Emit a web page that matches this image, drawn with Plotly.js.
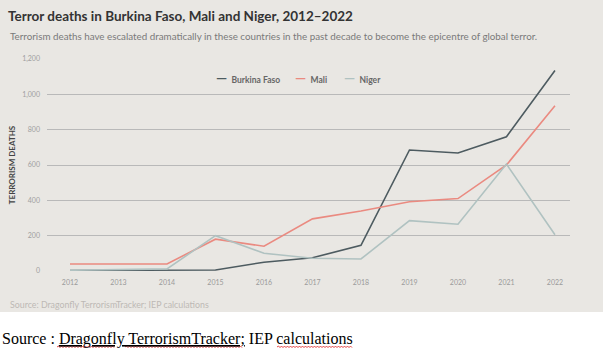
<!DOCTYPE html>
<html><head><meta charset="utf-8">
<script src="https://cdn.plot.ly/plotly-3.0.1.min.js"></script>
<style>html,body{margin:0;padding:0;background:#fff}#chart{width:603px;height:352px}</style>
</head><body><div id="chart"></div>
<script>
const years = [2012, 2013, 2014, 2015, 2016, 2017, 2018, 2019, 2020, 2021, 2022];
const burkinaFaso = [3, 4, 6, 6, 50, 75, 145, 685, 668, 760, 1135];
const mali = [40, 40, 40, 180, 140, 295, 340, 392, 410, 600, 935];
const niger = [4, 6, 12, 200, 100, 72, 68, 285, 265, 605, 205];
const seriesNames = ["Burkina Faso", "Mali", "Niger"];
const yTicks = [0, 200, 400, 600, 800, 1000, 1200];

const W = 603, H = 352, L = 47, R = 33, T = 59, B = 81;
const pw = W - L - R, ph = H - T - B;
const px = x => (x - L) / pw;
const py = y => (H - B - y) / ph;

const colors = ["#4d5b60", "#ea8a80", "#b0c2c1"];
const traces = [burkinaFaso, mali, niger].map((v, i) => ({
  x: years, y: v, name: seriesNames[i], type: "scatter", mode: "lines",
  line: {color: colors[i], width: 1.6}, showlegend: false
}));

// legend built from series names/colours
const legendX = [214, 293, 342];
const legendAnn = seriesNames.map((n, i) => ({
  text: "<span style='color:" + colors[i] + ";font-size:14px'><b>—</b></span>  <b>" + n + "</b>",
  xref: "paper", yref: "paper", x: px(legendX[i]), y: py(77), xanchor: "left", yanchor: "middle",
  showarrow: false, font: {size: 8.5, color: "#666"}
}));

// spell-check style red wavy underlines (decoration only)
function wavy(x0, x1, y) {
  let d = "M" + px(x0) + "," + py(y);
  let up = true;
  for (let x = x0 + 1.5; x <= x1; x += 1.5) {
    d += " L" + px(x) + "," + py(y + (up ? -1 : 0.6));
    up = !up;
  }
  return {type: "path", xref: "paper", yref: "paper", path: d, line: {color: "#e02020", width: 0.8}};
}

const layout = {
  width: W, height: H,
  margin: {l: L, r: R, t: T, b: B},
  paper_bgcolor: "#ffffff",
  plot_bgcolor: "rgba(0,0,0,0)",
  font: {family: "Lato, 'Open Sans', sans-serif", color: "#999"},
  title: {text: "<b>Terror deaths in Burkina Faso, Mali and Niger, 2012–2022</b>",
    x: 8 / W, xanchor: "left", y: 1 - 16 / H, yanchor: "middle",
    font: {size: 13.5, color: "#333", family: "Lato, sans-serif"}},
  xaxis: {range: [2011.526, 2022.31], tickvals: years, ticktext: years.map(String),
    showgrid: false, zeroline: false, showline: false, ticks: "", ticklabelstandoff: 6,
    tickfont: {size: 7, color: "#9a9a9a"}, fixedrange: true},
  yaxis: {range: [0, 1200], tickvals: yTicks, tickformat: ",d",
    showgrid: true, gridcolor: "#b9b9b9", gridwidth: 1, zeroline: false,
    ticks: "", ticklabelstandoff: 6, tickfont: {size: 7, color: "#a0a0a0"},
    title: {text: "<b>TERRORISM DEATHS</b>", font: {size: 8, color: "#444"}, standoff: 5},
    fixedrange: true},
  showlegend: false,
  shapes: [
    {type: "rect", xref: "paper", yref: "paper", x0: px(0), x1: px(W), y0: py(312), y1: py(0),
      fillcolor: "#e9e7e3", line: {width: 0}, layer: "below"},
    wavy(57, 114, 347), wavy(125, 243, 347), wavy(277, 352, 347)
  ],
  annotations: legendAnn.concat([
    {text: "Terrorism deaths have escalated dramatically in these countries in the past decade to become the epicentre of global terror.",
      xref: "paper", yref: "paper", x: px(8), y: py(36), xanchor: "left", yanchor: "middle",
      showarrow: false, font: {size: 9.8, color: "#7a7a7a", family: "Lato, sans-serif"}},
    {text: "Source: Dragonfly TerrorismTracker; IEP calculations",
      xref: "paper", yref: "paper", x: px(8), y: py(304), xanchor: "left", yanchor: "middle",
      showarrow: false, font: {size: 8.8, color: "#bdb9b5"}},
    {text: "Source : <span style='text-decoration:underline'>Dragonfly TerrorismTracker;</span> IEP calculations",
      xref: "paper", yref: "paper", x: px(0), y: py(339), xanchor: "left", yanchor: "middle",
      showarrow: false, font: {size: 16, color: "#000", family: "'Liberation Serif', 'Times New Roman', serif"}}
  ])
};
Plotly.newPlot("chart", traces, layout, {displayModeBar: false, staticPlot: true});
</script></body></html>
